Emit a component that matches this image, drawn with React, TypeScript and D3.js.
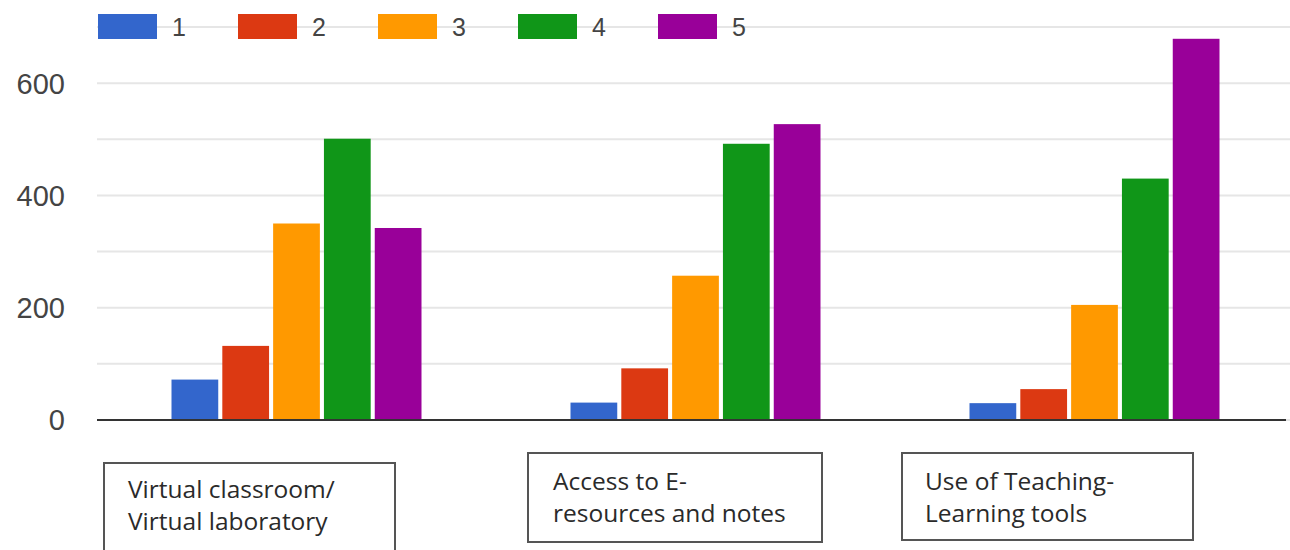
import React from "react";
import * as d3 from "d3";

const categories = ["Virtual classroom/\nVirtual laboratory", "Access to E-\nresources and notes", "Use of Teaching-\nLearning tools"];
const seriesNames = ["1", "2", "3", "4", "5"];
const seriesColors = ["#3366cc", "#dc3912", "#ff9900", "#109618", "#990099"];
const values1 = [72, 132, 350, 501, 342];
const values2 = [31, 92, 257, 492, 527];
const values3 = [30, 55, 205, 430, 679];
const allValues = [values1, values2, values3];
const yTicks = [0, 200, 400, 600];
const gridTicks = [0, 100, 200, 300, 400, 500, 600, 700];

const W = 1290, H = 550;
const plotLeft = 97, plotRight = 1294, plotTop = 27, plotBottom = 420;

export default function App() {
  const x0 = d3.scaleBand<string>().domain(categories).range([plotLeft, plotRight]).padding(0);
  const groupW = 250;
  const x1 = d3.scaleBand<string>().domain(seriesNames)
    .range([(x0.bandwidth() - groupW) / 2, (x0.bandwidth() + groupW) / 2]).paddingInner(0.08);
  const y = d3.scaleLinear().domain([0, 700]).range([plotBottom, plotTop]);

  const boxes = [
    { x: 104, y: 463, w: 291, h: 100, tx: 128, ty: 498 },
    { x: 528, y: 453, w: 294, h: 89, tx: 553, ty: 490 },
    { x: 902, y: 453, w: 291, h: 87, tx: 925, ty: 490 },
  ];

  return (
    <svg width={W} height={H} style={{ position: "absolute", left: 0, top: 0, background: "#fff" }}>
      <rect x={0} y={0} width={W} height={H} fill="#fff" />
      {gridTicks.map((t) => (
        <line key={t} x1={plotLeft} x2={W} y1={y(t)} y2={y(t)} stroke="#e6e6e6" strokeWidth={2} />
      ))}
      {yTicks.map((t) => (
        <text key={t} x={65} y={y(t)} dy="0.36em" textAnchor="end" fontFamily="Liberation Sans, Arial, sans-serif" fontSize={29} fill="#444">
          {t}
        </text>
      ))}
      {categories.map((c, ci) => (
        <g key={c} transform={`translate(${x0(c)},0)`}>
          {seriesNames.map((s, si) => (
            <rect key={s} x={x1(s)} y={y(allValues[ci][si])} width={x1.bandwidth()} height={y(0) - y(allValues[ci][si])} fill={seriesColors[si]} />
          ))}
        </g>
      ))}
      <line x1={plotLeft} x2={1286} y1={y(0)} y2={y(0)} stroke="#333" strokeWidth={2} />
      {seriesNames.map((s, i) => (
        <g key={s} transform={`translate(${98 + i * 140},14)`}>
          <rect x={0} y={0} width={59} height={25} fill={seriesColors[i]} />
          <text x={74} y={13} dy="0.36em" fontFamily="Liberation Sans, Arial, sans-serif" fontSize={25} fill="#444">{s}</text>
        </g>
      ))}
      {categories.map((c, i) => {
        const b = boxes[i];
        const lines = c.split("\n");
        return (
          <g key={c}>
            <rect x={b.x} y={b.y} width={b.w} height={b.h} fill="#fff" stroke="#555" strokeWidth={2} />
            {lines.map((l, li) => (
              <text key={li} x={b.tx} y={b.ty + li * 32} fontFamily="Open Sans, sans-serif" fontSize={24.5} fill="#2a2a2a">{l}</text>
            ))}
          </g>
        );
      })}
    </svg>
  );
}
